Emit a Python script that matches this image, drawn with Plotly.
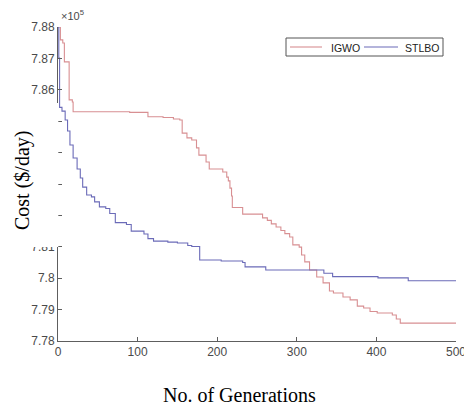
import plotly.graph_objects as go

# Convergence data (cost in units of 1e5 $/day)
igwo_gen = [0, 3, 6, 8, 14, 18, 19, 90, 113, 132, 145, 153, 156, 162, 168, 174, 177,
            186, 190, 207, 212, 214, 216, 218, 219, 232, 257, 263, 268, 274, 280, 285,
            291, 295, 303, 306, 310, 316, 325, 333, 341, 346, 358, 367, 376, 384, 392,
            401, 420, 425, 430, 500]
igwo_cost = [7.8800, 7.8759, 7.8749, 7.8689, 7.8568, 7.8561, 7.8530, 7.8528, 7.8514,
             7.8512, 7.8507, 7.8504, 7.8462, 7.8447, 7.8440, 7.8415, 7.8392, 7.8370,
             7.8348, 7.8338, 7.8322, 7.8310, 7.8287, 7.8262, 7.8225, 7.8204, 7.8192,
             7.8184, 7.8173, 7.8163, 7.8152, 7.8142, 7.8131, 7.8106, 7.8099, 7.8074,
             7.8052, 7.8026, 7.8004, 7.7985, 7.7959, 7.7953, 7.7940, 7.7931, 7.7911,
             7.7905, 7.7894, 7.7889, 7.7883, 7.7870, 7.7857, 7.7857]

stlbo_gen = [0, 1, 2, 5, 9, 12, 15, 19, 24, 28, 31, 36, 42, 46, 52, 60, 65, 72, 86, 92,
             108, 113, 120, 138, 150, 163, 168, 178, 205, 232, 235, 261, 334, 345, 402,
             440, 500]
stlbo_cost = [7.8800, 7.8701, 7.8544, 7.8532, 7.8504, 7.8469, 7.8424, 7.8383, 7.8348,
              7.8319, 7.8290, 7.8265, 7.8259, 7.8243, 7.8227, 7.8222, 7.8206, 7.8177,
              7.8171, 7.8150, 7.8141, 7.8126, 7.8118, 7.8115, 7.8112, 7.8104, 7.8101,
              7.8058, 7.8055, 7.8050, 7.8036, 7.8026, 7.8016, 7.8005, 7.8001, 7.7992,
              7.7992]

series_names = ["IGWO", "STLBO"]
x_ticks = [0, 100, 200, 300, 400, 500]
y_ticks = [7.78, 7.79, 7.80, 7.81, 7.82, 7.83, 7.84, 7.85, 7.86, 7.87, 7.88]
y_ticktext = ["7.78", "7.79", "7.8", "7.81", "7.82", "7.83", "7.84", "7.85", "7.86", "7.87", "7.88"]

RED = "#d88f92"
BLUE = "#6b6bb8"
AX = "#5e5e5e"

# plot area geometry in page pixels (body margin removed below)
L, R, T, B = 58, 8, 27, 67
W, H = 464, 408
PW, PH = W - L - R, H - T - B


def px(xpage):
    return (xpage - L) / PW


def py(ypage):
    return (H - B - ypage) / PH


fig = go.Figure()
fig.add_trace(go.Scatter(x=igwo_gen, y=igwo_cost, mode="lines", name=series_names[0],
                         line=dict(color=RED, width=1.1, shape="hv")))
fig.add_trace(go.Scatter(x=stlbo_gen, y=stlbo_cost, mode="lines", name=series_names[1],
                         line=dict(color=BLUE, width=1.1, shape="hv")))

tickfont = dict(family="Liberation Sans, Arial", size=12, color="#4a4a4a")
fig.update_layout(
    width=W, height=H,
    margin=dict(l=L, r=R, t=T, b=B, autoexpand=False),
    paper_bgcolor="white", plot_bgcolor="white",
    showlegend=False,
    xaxis=dict(range=[0, 500], tickvals=x_ticks, ticks="inside", ticklen=4,
               tickcolor=AX, showline=True, linecolor=AX, linewidth=1,
               showgrid=False, zeroline=False, tickfont=tickfont,
               ticklabeloverflow="allow", automargin=False),
    yaxis=dict(range=[7.78, 7.88], tickvals=y_ticks, ticktext=y_ticktext,
               ticks="inside", ticklen=4, tickcolor=AX, showline=True,
               linecolor=AX, linewidth=1, showgrid=False, zeroline=False,
               tickfont=tickfont, automargin=False),
)

# white patch covering part of the y-axis labels (as in the reference)
fig.add_shape(type="rect", xref="paper", yref="paper",
              x0=px(0), x1=px(58.3), y0=py(247), y1=py(103),
              fillcolor="white", line=dict(width=0), layer="above")

# legend box drawn by hand to match the reference size
fig.add_shape(type="rect", xref="paper", yref="paper",
              x0=px(286), x1=px(443), y0=py(56), y1=py(38),
              fillcolor="white", line=dict(color="#555555", width=1), layer="above")
legend_items = [(series_names[0], RED, 290, 322, 329), (series_names[1], BLUE, 364, 398, 403)]
for name, col, lx0, lx1, tx in legend_items:
    fig.add_shape(type="line", xref="paper", yref="paper",
                  x0=px(lx0), x1=px(lx1), y0=py(47), y1=py(47),
                  line=dict(color=col, width=1.1), layer="above")
    fig.add_annotation(text=name, xref="paper", yref="paper", x=px(tx), y=py(47.5),
                       showarrow=False, xanchor="left", yanchor="middle",
                       font=dict(family="Liberation Sans, Arial", size=10.5, color="#222222"))

fig.add_annotation(text="Cost ($/day)", xref="paper", yref="paper",
                   x=px(22), y=py(181), showarrow=False,
                   textangle=-90, xanchor="center", yanchor="middle",
                   font=dict(family="Liberation Serif, Times New Roman", size=20, color="black"))
fig.add_annotation(text="No. of Generations", xref="paper", yref="paper",
                   x=px(239), y=py(395), showarrow=False,
                   xanchor="center", yanchor="middle",
                   font=dict(family="Liberation Serif, Times New Roman", size=20, color="black"))
fig.add_annotation(text="×10<sup>5</sup>", xref="paper", yref="paper",
                   x=px(59), y=py(24), showarrow=False, xanchor="left", yanchor="bottom",
                   font=dict(family="Liberation Sans, Arial", size=11, color="#4a4a4a"))

fig.write_html("out.html", config={"responsive": False, "displayModeBar": False},
               post_script="document.body.style.margin='0px';document.body.style.overflow='hidden';")
